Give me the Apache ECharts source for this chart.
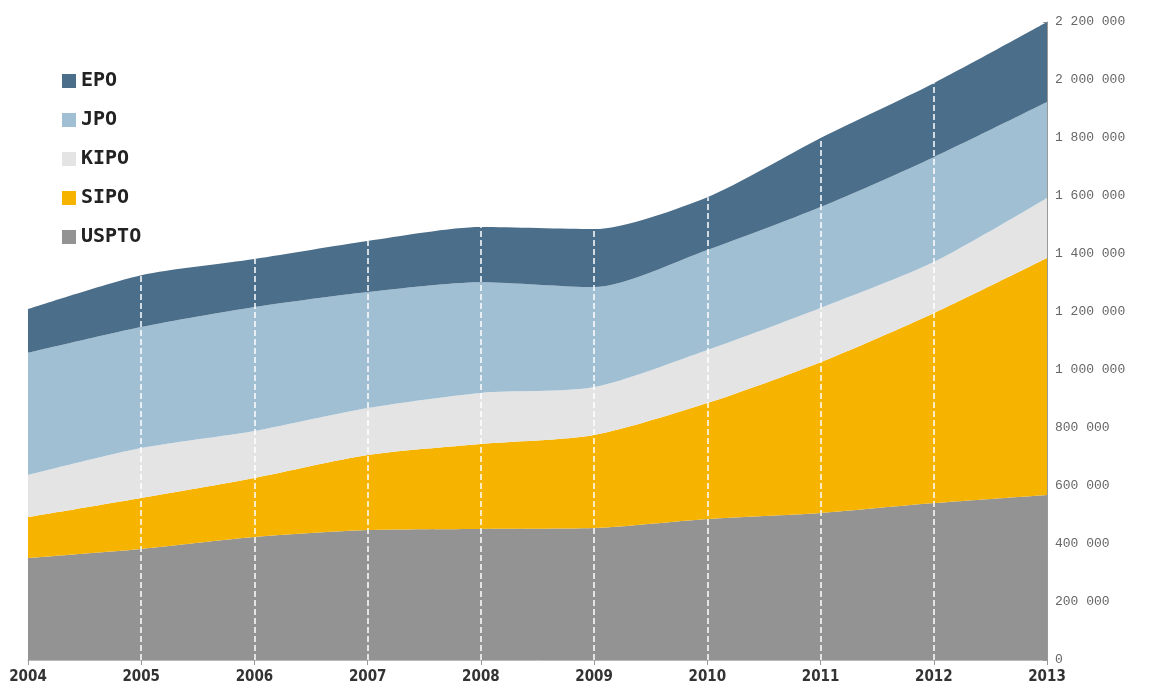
<!DOCTYPE html>
<html>
<head>
<meta charset="utf-8">
<script src="https://cdn.jsdelivr.net/npm/echarts@6/dist/echarts.min.js"></script>
<style>html,body{margin:0;padding:0;background:#fff;}#c{width:1159px;height:696px;}</style>
</head>
<body>
<div id="c"></div>
<script>
var years = ['2004','2005','2006','2007','2008','2009','2010','2011','2012','2013'];
var USPTO = [352000, 383000, 424000, 448000, 452000, 455000, 486000, 507000, 541000, 569000];
var SIPO  = [141000, 176000, 204000, 259000, 293000, 321000, 400000, 520000, 655000, 817000];
var KIPO  = [145000, 172000, 162000, 162000, 176000, 165000, 183000, 187000, 176000, 207000];
var JPO   = [421000, 417000, 427000, 400000, 382000, 345000, 345000, 348000, 362000, 331000];
var EPO   = [151000, 179000, 166000, 176000, 190000, 200000, 182000, 238000, 255000, 276000];
var legendOrder = ['EPO','JPO','KIPO','SIPO','USPTO'];

var colors = {EPO:'#4b6e8a', JPO:'#a0bfd3', KIPO:'#e4e4e4', SIPO:'#f6b300', USPTO:'#939393'};

var totals = years.map(function(y,i){ return USPTO[i]+SIPO[i]+KIPO[i]+JPO[i]+EPO[i]; });
var dashLines = [];
for (var i = 1; i < years.length - 1; i++) {
  dashLines.push([{coord:[years[i], 0]}, {coord:[years[i], totals[i]]}]);
}

function mk(name, data, extra) {
  var s = {
    name: name, type: 'line', stack: 'total', data: data,
    smooth: 0.25, symbol: 'none', showSymbol: false,
    lineStyle: {width: 0}, areaStyle: {color: colors[name], opacity: 1},
    itemStyle: {color: colors[name]}, z: 2
  };
  if (extra) for (var k in extra) s[k] = extra[k];
  return s;
}

var chart = echarts.init(document.getElementById('c'));
chart.setOption({
  animation: false,
  backgroundColor: '#ffffff',
  grid: {left: 28, right: 112, top: 22, bottom: 36, containLabel: false},
  legend: {
    data: legendOrder, orient: 'vertical', left: 57, top: 66,
    itemWidth: 14, itemHeight: 14, itemGap: 19, icon: 'rect',
    textStyle: {fontFamily: "'DejaVu Sans Mono', monospace", fontWeight: 'bold', fontSize: 20, color: '#222', lineHeight: 20}
  },
  xAxis: {
    type: 'category', data: years, boundaryGap: false,
    axisLine: {lineStyle: {color: '#bbbbbb', width: 1}},
    axisTick: {show: true, length: 5, lineStyle: {color: '#999'}},
    axisLabel: {fontFamily: "'Liberation Sans Narrow','DejaVu Sans Condensed',sans-serif", fontWeight: 'bold', fontSize: 15, color: '#333', margin: 10},
    splitLine: {show: false}
  },
  yAxis: {
    type: 'value', position: 'right', min: 0, max: 2200000, interval: 200000,
    axisLine: {show: true, lineStyle: {color: '#999999'}},
    axisTick: {show: true, inside: true, length: 4, lineStyle: {color: '#999'}},
    splitLine: {show: false},
    axisLabel: {
      fontFamily: "'Liberation Mono','DejaVu Sans Mono',monospace", fontSize: 13, color: '#666', margin: 8,
      formatter: function(v){ return String(v).replace(/\B(?=(\d{3})+(?!\d))/g, ' '); }
    }
  },
  series: [
    mk('USPTO', USPTO),
    mk('SIPO', SIPO),
    mk('KIPO', KIPO),
    mk('JPO', JPO),
    mk('EPO', EPO, {
      markLine: {
        silent: true, symbol: 'none', label: {show: false},
        lineStyle: {color: '#ffffff', type: [6, 3], width: 1.5, opacity: 1},
        data: dashLines
      }
    })
  ]
});
</script>
</body>
</html>
